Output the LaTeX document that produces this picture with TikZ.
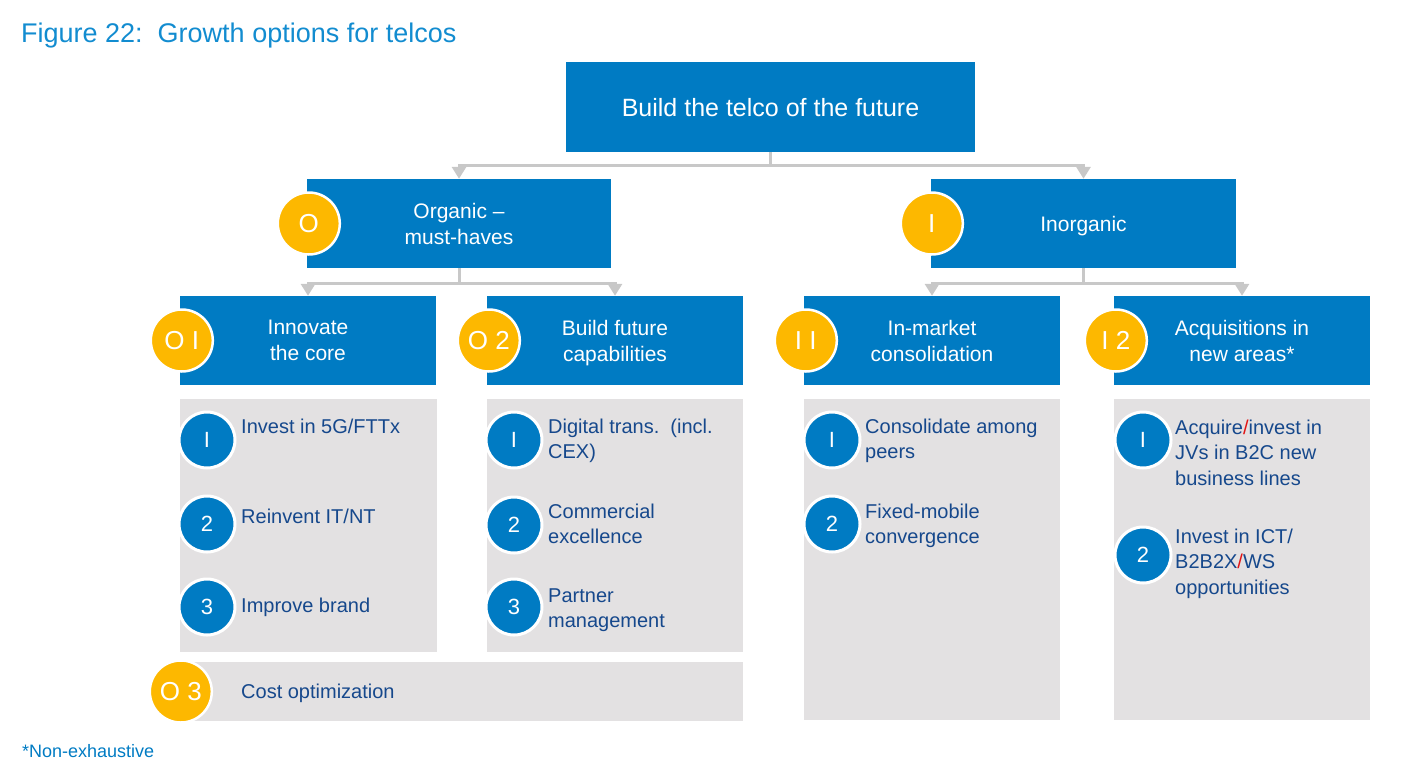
\documentclass[tikz,border=0pt]{standalone}
\usepackage{fontspec}
\setmainfont{Liberation Sans}
\usetikzlibrary{arrows.meta}

\definecolor{boxblue}{RGB}{0,123,195}
\definecolor{titleblue}{RGB}{18,140,208}
\definecolor{inkblue}{RGB}{22,72,140}
\definecolor{gold}{RGB}{253,184,0}
\definecolor{panelgray}{RGB}{227,225,226}
\definecolor{wiregray}{RGB}{200,200,200}
\definecolor{slashred}{RGB}{226,20,20}

\newcommand\fs[2]{\fontsize{#1}{#2}\selectfont}
\newcommand\itemlines[1]{\begin{tabular}[t]{@{}l@{}}#1\end{tabular}}
\newcommand\redslash{\textcolor{slashred}{/}}

\begin{document}
\begin{tikzpicture}[x=1pt,y=-1pt,
  headbox/.style={rectangle, fill=boxblue, text=white, inner sep=0pt,
    align=center, font=\fs{21}{26}, minimum width=256, minimum height=89,
    text depth=0pt},
  panelbox/.style={rectangle, fill=panelgray, inner sep=0pt},
  goldbadge/.style={circle, fill=gold, draw=white, line width=2.5pt,
    minimum size=62, inner sep=0pt, text=white, font=\fs{26}{30}},
  numbadge/.style={circle, fill=boxblue, draw=white, line width=3pt,
    minimum size=56, inner sep=0pt, text=white, font=\fs{22}{25}},
  itemtext/.style={anchor=base west, inner sep=0pt, text=inkblue,
    font=\fs{20}{25.5}},
  link/.style={draw=wiregray, line width=3pt},
  arrowlink/.style={link, -{Triangle[width=14pt,length=12pt]}}
]
\useasboundingbox (0,0) rectangle (1420,766);

% title and footnote
\node[anchor=base west, inner sep=0pt, text=titleblue, font=\fs{27}{32}]
  (title) at (21,42) {Figure 22:\ \ Growth options for telcos};
\node[anchor=base west, inner sep=0pt, text=boxblue, font=\fs{18}{22}]
  (foot) at (22,757) {*Non-exhaustive};

% level 0
\node[headbox, minimum width=409, minimum height=90, font=\fs{25}{30}]
  (top) at (770.5,107) {Build the telco of the future};

% level 1
\node[headbox, minimum width=304] (org) at (459,223.5) {Organic --\\must-haves};
\node[headbox, minimum width=305] (inorg) at (1083.5,223.5) {Inorganic};

% level 2
\node[headbox] (o1) at (308,340.5) {Innovate\\the core};
\node[headbox] (o2) at (615,340.5) {Build future\\capabilities};
\node[headbox] (i1) at (932,340.5) {In-market\\consolidation};
\node[headbox] (i2) at (1242,340.5) {Acquisitions in\\new areas*};

% connectors
\coordinate (j0) at (770.5,165);
\coordinate (j1) at (459,283);
\coordinate (j2) at (1083.5,283);
\draw[link] (top.south) -- (j0);
\draw[arrowlink] (j0) -| (org.north);
\draw[arrowlink] (j0) -| (inorg.north);
\draw[link] (org.south) -- (j1);
\draw[arrowlink] (j1) -| (o1.north);
\draw[arrowlink] (j1) -| (o2.north);
\draw[link] (inorg.south) -- (j2);
\draw[arrowlink] (j2) -| (i1.north);
\draw[arrowlink] (j2) -| (i2.north);

% detail panels
\node[panelbox, minimum width=257, minimum height=253] (p1) at (308.5,525.5) {};
\node[panelbox, minimum width=256, minimum height=253] (p2) at (615,525.5) {};
\node[panelbox, minimum width=256, minimum height=321] (p3) at (932,559.5) {};
\node[panelbox, minimum width=256, minimum height=321] (p4) at (1242,559.5) {};
\node[panelbox, minimum width=563, minimum height=59] (pc) at (461.5,691.5) {};

% gold badges
\node[goldbadge] (borg) at ([xshift=2pt]org.west) {O};
\node[goldbadge] (binorg) at ([xshift=1pt]inorg.west) {I};
\node[goldbadge] (bo1) at ([xshift=2pt]o1.west) {O I};
\node[goldbadge] (bo2) at ([xshift=2pt]o2.west) {O 2};
\node[goldbadge] (bi1) at ([xshift=2pt]i1.west) {I I};
\node[goldbadge] (bi2) at ([xshift=2pt]i2.west) {I 2};
\node[goldbadge] (bo3) at ([xshift=1pt]pc.west) {O 3};
\node[itemtext] (tcost) at (241,698) {Cost optimization};

% Innovate the core
\node[numbadge] (n11) at (207,440) {I};
\node[numbadge] (n12) at (207,524) {2};
\node[numbadge] (n13) at (207,607) {3};
\node[itemtext] (t11) at (241,433) {Invest in 5G/FTTx};
\node[itemtext] (t12) at (241,523) {Reinvent IT/NT};
\node[itemtext] (t13) at (241,612) {Improve brand};

% Build future capabilities
\node[numbadge] (n21) at (514,440) {I};
\node[numbadge] (n22) at (514,525) {2};
\node[numbadge] (n23) at (514,607) {3};
\node[itemtext] (t21) at (548,433) {\itemlines{Digital trans.\ \ (incl.\\CEX)}};
\node[itemtext] (t22) at (548,518) {\itemlines{Commercial\\excellence}};
\node[itemtext] (t23) at (548,602) {\itemlines{Partner\\management}};

% In-market consolidation
\node[numbadge] (n31) at (832,440) {I};
\node[numbadge] (n32) at (832,524) {2};
\node[itemtext] (t31) at (865,433) {\itemlines{Consolidate among\\peers}};
\node[itemtext] (t32) at (865,518) {\itemlines{Fixed-mobile\\convergence}};

% Acquisitions in new areas
\node[numbadge] (n41) at (1143,440) {I};
\node[numbadge] (n42) at (1143,555) {2};
\node[itemtext] (t41) at (1175,434)
  {\itemlines{Acquire\redslash invest in\\JVs in B2C new\\business lines}};
\node[itemtext] (t42) at (1175,543)
  {\itemlines{Invest in ICT/\\B2B2X\redslash WS\\opportunities}};
\end{tikzpicture}
\end{document}
